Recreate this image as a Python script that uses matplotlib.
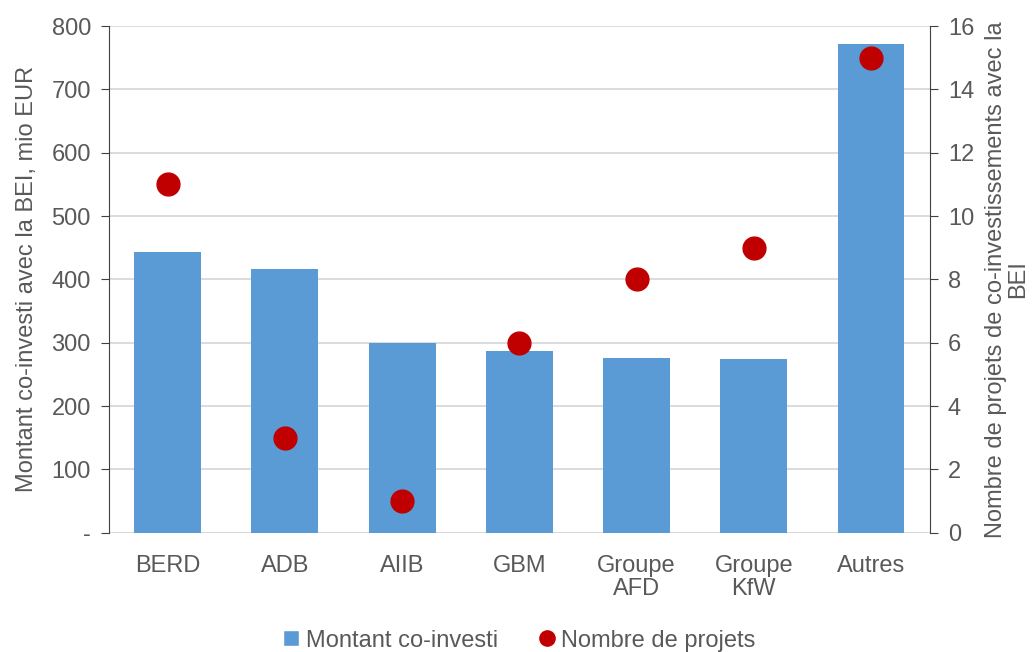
import matplotlib.pyplot as plt
import numpy as np
from matplotlib.lines import Line2D

plt.rcParams['font.family'] = ['Liberation Sans', 'DejaVu Sans']

categories = ["BERD", "ADB", "AIIB", "GBM", "Groupe\nAFD", "Groupe\nKfW", "Autres"]
montant = [443, 416, 299, 287, 276, 275, 772]
nombre = [11, 3, 1, 6, 8, 9, 15]

left_ticks = [0, 100, 200, 300, 400, 500, 600, 700, 800]
left_labels = ["-", "100", "200", "300", "400", "500", "600", "700", "800"]
right_ticks = [0, 2, 4, 6, 8, 10, 12, 14, 16]

grey = "#595959"
bar_col = "#5b9bd5"
dot_col = "#c00000"
fs = 17

fig = plt.figure(figsize=(10.33, 6.52), dpi=100)
ax = fig.add_axes([0.1055, 0.183, 0.7945, 0.777])
ax2 = ax.twinx()

x = np.arange(len(categories))
ax.bar(x, montant, width=0.57, color=bar_col, zorder=2)
ax2.scatter(x, nombre, s=270, color=dot_col, zorder=3)

ax.set_xlim(-0.5, len(categories) - 0.5)
ax.set_ylim(0, 800)
ax2.set_ylim(0, 16)

ax.set_yticks(left_ticks)
ax.set_yticklabels(left_labels)
ax2.set_yticks(right_ticks)
ax.set_xticks(x)
ax.set_xticklabels(categories, linespacing=1.05)

ax.yaxis.grid(True, color="#d9d9d9", linewidth=1.3, zorder=0)
ax.set_axisbelow(True)

for a in (ax, ax2):
    a.spines['top'].set_visible(False)
    a.spines['bottom'].set_visible(False)
    a.tick_params(colors=grey, labelsize=fs)
ax.spines['right'].set_visible(False)
ax2.spines['left'].set_visible(False)
ax.spines['left'].set_color("#404040")
ax2.spines['right'].set_color("#404040")
ax.tick_params(axis='y', length=6, color="#404040", pad=7)
ax2.tick_params(axis='y', length=6, color="#404040", pad=7)
ax.tick_params(axis='x', length=0, pad=16)
ax.axhline(0, color="#d9d9d9", linewidth=1.5, zorder=1)

ax.set_ylabel("Montant co-investi avec la BEI, mio EUR", color=grey, fontsize=fs, labelpad=10)
ax2.set_ylabel("Nombre de projets de co-investissements avec la\nBEI", color=grey,
               fontsize=fs, rotation=90, labelpad=8, linespacing=1.0)

handles = [
    Line2D([0], [0], marker='s', color='w', markerfacecolor=bar_col, markersize=11, label="Montant co-investi"),
    Line2D([0], [0], marker='o', color='w', markerfacecolor=dot_col, markersize=13, label="Nombre de projets"),
]
leg = fig.legend(handles=handles, loc='lower center', bbox_to_anchor=(0.5, -0.032), ncol=2,
                 frameon=False, fontsize=fs, handletextpad=0.0, columnspacing=1.5,
                 handlelength=1.2)
for t in leg.get_texts():
    t.set_color(grey)

fig.savefig("out.png", dpi=100)
